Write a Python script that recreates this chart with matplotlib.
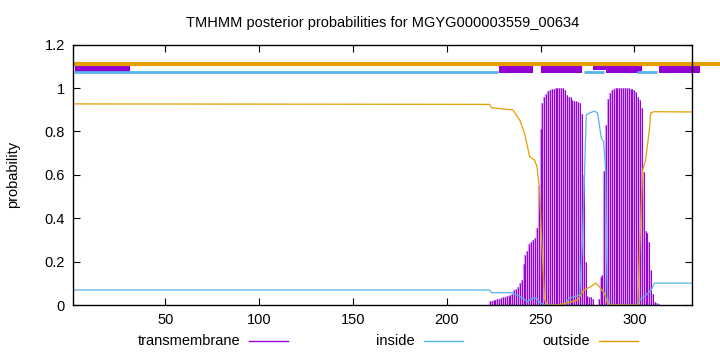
import numpy as np
import matplotlib
matplotlib.use('Agg')
import matplotlib.pyplot as plt
from matplotlib.lines import Line2D

plt.rcParams['font.family'] = ['Liberation Sans', 'DejaVu Sans']

# Colours (gnuplot default-ish)
c_tm = '#9400d3'
c_tm_light = '#d49ef0'
c_in = '#56b4e9'
c_out = '#e69f00'

seq_len = 331

# Transmembrane posterior (impulses), residues 223..313, zero elsewhere
tm_res = list(range(223, 314))
tm_prob = [0.018, 0.02, 0.022, 0.025, 0.027, 0.03, 0.032, 0.035, 0.037, 0.04,
           0.042, 0.045, 0.049, 0.069, 0.075, 0.084, 0.10, 0.115, 0.19, 0.23,
           0.25, 0.28, 0.29, 0.30, 0.31, 0.355, 0.55, 0.81, 0.93, 0.96,
           0.975, 0.985, 0.99, 0.995, 0.995, 1.0, 1.0, 1.0, 1.0, 1.0,
           0.99, 0.97, 0.96, 0.957, 0.945, 0.94, 0.94, 0.935, 0.93, 0.88,
           0.6, 0.2, 0.04, 0.035, 0.035, 0.03, 0.0, 0.0, 0.03, 0.13,
           0.14, 0.62, 0.83, 0.95, 0.976, 0.99, 0.995, 1.0, 1.0, 1.0,
           1.0, 1.0, 1.0, 1.0, 1.0, 0.995, 0.995, 0.99, 0.983, 0.96,
           0.945, 0.907, 0.615, 0.34, 0.33, 0.29, 0.16, 0.05, 0.015, 0.01,
           0.005]

# Inside posterior (read points)
in_res = [1, 222.8, 223.9, 235.1, 237.2, 240.4, 243.1, 245.7, 247.9, 250, 252,
          262.8, 265.5, 270.8, 272.4, 273.4, 274.4, 276.1, 278.8, 280.4, 282.4,
          283.6, 284.7, 285.2, 285.8, 286.8, 301.7, 302.8, 306.3, 309, 310.7, 331]
in_prob = [0.069, 0.069, 0.057, 0.057, 0.046, 0.032, 0.015, 0.032, 0.032, 0.009, 0.0,
           0.0, 0.032, 0.046, 0.30, 0.59, 0.876, 0.885, 0.894, 0.885, 0.77,
           0.753, 0.622, 0.25, 0.023, 0.0, 0.0, 0.023, 0.046, 0.069, 0.101, 0.101]

# Outside posterior (read points)
out_res = [1, 222.8, 223.8, 235.3, 238.9, 241.5, 244.2, 246.8, 248.1, 249.5, 250.6,
           252.2, 253.8, 259.2, 264.5, 269.8, 273, 276.7, 279.4, 281.4, 284,
           285.8, 287, 301.8, 302.8, 304.4, 306, 308, 308.7, 310.3, 331]
out_prob = [0.927, 0.925, 0.91, 0.899, 0.853, 0.792, 0.684, 0.668, 0.638, 0.53, 0.30,
            0.023, 0.0, 0.0, 0.01, 0.023, 0.069, 0.084, 0.101, 0.084, 0.055,
            0.009, 0.0, 0.0, 0.25, 0.622, 0.668, 0.807, 0.885, 0.891, 0.89]

# Topology bar segments on top (start, end)
top_out = [(1, 346)]
top_in = [(1.4, 227.1), (273, 283.7), (301.3, 312)]
top_tm = [(1.9, 31.2), (227.7, 245.8), (250.2, 272), (277.9, 284.8), (284.8, 304), (313, 334.8)]
top_tm_lo = [1.07, 1.068, 1.068, 1.083, 1.068, 1.068]
top_tm_hi = [1.10, 1.102, 1.119, 1.102, 1.119, 1.102]

fig = plt.figure(figsize=(7.2, 3.52), dpi=100)
ax = fig.add_axes([0.1018, 0.1335, 0.86, 0.7395])

# impulses: light fill underneath, thin dark stroke on top
ax.vlines(tm_res, 0, tm_prob, color=c_tm_light, lw=1.6)
ax.vlines(tm_res, 0, tm_prob, color=c_tm, lw=0.7)
ax.plot(in_res, in_prob, color=c_in, lw=0.9)
ax.plot(out_res, out_prob, color=c_out, lw=0.9)

# topology
for s, e in top_out:
    ax.plot([s, e], [1.111, 1.111], color=c_out, lw=3.0, solid_capstyle='butt', clip_on=False)
for s, e in top_in:
    ax.plot([s, e], [1.074, 1.074], color=c_in, lw=2.0, solid_capstyle='butt', clip_on=False)
for (s, e), lo, hi in zip(top_tm, top_tm_lo, top_tm_hi):
    ax.fill_between([s, e], lo, hi, color=c_tm, lw=0, clip_on=False)

ax.set_xlim(1, seq_len)
ax.set_ylim(0, 1.2)
ax.set_xticks([50, 100, 150, 200, 250, 300])
ax.set_yticks([0, 0.2, 0.4, 0.6, 0.8, 1.0, 1.2])
ax.set_yticklabels(['0', '0.2', '0.4', '0.6', '0.8', '1', '1.2'])
ax.tick_params(direction='in', top=True, right=True, length=5, labelsize=10.5, pad=6)
for sp in ax.spines.values():
    sp.set_linewidth(1.0)
ax.set_ylabel('probability', fontsize=10.5, labelpad=18)
ax.set_title('TMHMM posterior probabilities for MGYG000003559_00634', fontsize=10.5, pad=13)

# legend at bottom, gnuplot style
leg = [('transmembrane', c_tm, 240, 249), ('inside', c_in, 415, 424), ('outside', c_out, 590, 599)]
ly = 1 - 341 / 352
for name, col, tx, lx in leg:
    fig.text(tx / 720, ly, name, ha='right', va='center', fontsize=10.5)
    fig.add_artist(Line2D([lx / 720, (lx + 39) / 720], [ly, ly], color=col, lw=1.0))

plt.savefig('out.png', dpi=100)
